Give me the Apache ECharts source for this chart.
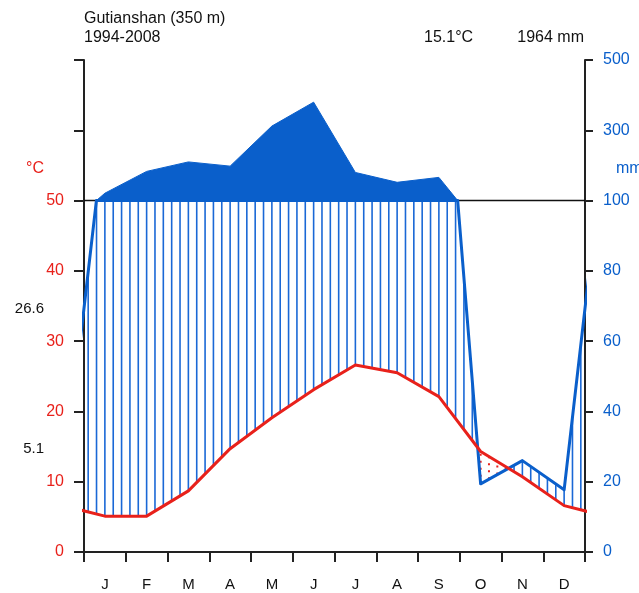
<!DOCTYPE html>
<html>
<head>
<meta charset="utf-8">
<title>Gutianshan climate diagram</title>
<script src="https://cdn.jsdelivr.net/npm/echarts@6/dist/echarts.min.js"></script>
<style>
  html, body { margin: 0; padding: 0; background: #fff; }
  #chart { width: 639px; height: 593px; }
</style>
</head>
<body>
<div id="chart"></div>
<script>
// Monthly climate normals, Gutianshan (350 m), 1994-2008
const months = ['J', 'F', 'M', 'A', 'M', 'J', 'J', 'A', 'S', 'O', 'N', 'D'];
const tempC = [5.1, 5.1, 8.7, 14.7, 19.1, 23.1, 26.6, 25.5, 22.1, 14.3, 10.7, 6.6];
const precipMm = [121, 183, 210, 198, 312, 380, 180, 152, 166, 19.4, 26, 17.7];
const tempTicks = [0, 10, 20, 30, 40, 50];
const mmTicks = [0, 20, 40, 60, 80, 100, 300, 500];

const RED = '#e8211b';
const BLUE = '#0a5fcb';
const HATCH = '#1a68d6';

// Walter-Lieth scaling: 10 degC = 20 mm up to 100 mm, 10 degC = 200 mm above
const toScale = p => (p <= 100 ? p / 2 : 50 + (p - 100) / 20);
const fromScale = v => (v <= 50 ? v * 2 : 100 + (v - 50) * 20);

// Months sit at x = 0.5 .. 11.5; December and January repeat at both edges
const xs = [-0.5].concat(months.map((_, i) => i + 0.5), [12.5]);
const tW = [tempC[11]].concat(tempC, [tempC[0]]);
const pW = [precipMm[11]].concat(precipMm, [precipMm[0]]);

// Temperature curve
const tempLine = xs.map((x, i) => [x, tW[i]]);

// Precipitation curve, capped at 100 mm, with the 100 mm crossings inserted
const precipLine = [];
for (let i = 0; i < xs.length; i++) {
  precipLine.push([xs[i], Math.min(pW[i], 100) / 2]);
  if (i < xs.length - 1 && (pW[i] - 100) * (pW[i + 1] - 100) < 0) {
    const f = (100 - pW[i]) / (pW[i + 1] - pW[i]);
    precipLine.push([xs[i] + f, 50]);
  }
}

// Solid areas above 100 mm (compressed scale)
const wetPolys = [];
let cur = null;
for (let i = 0; i < xs.length; i++) {
  if (pW[i] > 100) {
    if (!cur) {
      cur = [];
      if (i > 0) {
        const f = (100 - pW[i - 1]) / (pW[i] - pW[i - 1]);
        cur.push([xs[i - 1] + f, 50]);
      } else {
        cur.push([xs[i], 50]);
      }
    }
    cur.push([xs[i], toScale(pW[i])]);
  } else if (cur) {
    const f = (pW[i - 1] - 100) / (pW[i - 1] - pW[i]);
    cur.push([xs[i - 1] + f, 50]);
    wetPolys.push(cur);
    cur = null;
  }
}
if (cur) { cur.push([xs[xs.length - 1], 50]); wetPolys.push(cur); }
// keep only the parts that fall inside the year (0..12)
const wetVisible = wetPolys.filter(poly => poly.some(pt => pt[0] > 0 && pt[0] < 12));

// Hatching every 0.2 month between the two curves
const humidHatch = [];
const aridHatch = [];
for (let k = 0; k <= 65; k++) {
  const x = -0.5 + 0.2 * k;
  if (x < 0 || x > 12) continue;
  let i = 0;
  while (i < xs.length - 2 && x > xs[i + 1]) i++;
  const f = (x - xs[i]) / (xs[i + 1] - xs[i]);
  const t = tW[i] + f * (tW[i + 1] - tW[i]);
  const p = pW[i] + f * (pW[i + 1] - pW[i]);
  const ps = Math.min(p, 100) / 2;
  if (ps > t) humidHatch.push([x, t, ps]);
  else aridHatch.push([x, ps, t]);
}

const meanTemp = tempC.reduce((a, b) => a + b, 0) / tempC.length;
const maxTemp = Math.max.apply(null, tempC);
const minTemp = Math.min.apply(null, tempC);

const FONT = '"Liberation Sans", Arial, sans-serif';

function hatchRenderer(color, dash, width) {
  return function (params, api) {
    const a = api.coord([api.value(0), api.value(1)]);
    const b = api.coord([api.value(0), api.value(2)]);
    return {
      type: 'line',
      shape: { x1: a[0], y1: a[1], x2: b[0], y2: b[1] },
      style: { stroke: color, lineWidth: width, lineDash: dash }
    };
  };
}

const titleText = { fontSize: 16, fontWeight: 'normal', color: '#111', fontFamily: FONT };

const chart = echarts.init(document.getElementById('chart'), null, { renderer: 'canvas' });
chart.setOption({
  animation: false,
  backgroundColor: '#ffffff',
  textStyle: { fontFamily: FONT },
  grid: { left: 84, right: 54, top: 60, bottom: 41, containLabel: false },
  title: [
    { text: 'Gutianshan (350 m)', left: 84, top: 11, padding: 0, textStyle: titleText },
    { text: '1994-2008', left: 84, top: 30, padding: 0, textStyle: titleText },
    { text: meanTemp.toFixed(1) + '°C', left: 424, top: 30, padding: 0, textStyle: titleText },
    { text: '1964 mm', right: 55, top: 30, padding: 0, textStyle: titleText }
  ],
  graphic: [
    { type: 'text', left: 26, top: 161,
      style: { text: '°C', fill: RED, font: '16px ' + FONT } },
    { type: 'text', left: 616, top: 161,
      style: { text: 'mm', fill: BLUE, font: '16px ' + FONT } },
    { type: 'text', right: 595, top: 301,
      style: { text: maxTemp.toFixed(1), fill: '#111', font: '15px ' + FONT } },
    { type: 'text', right: 595, top: 441,
      style: { text: minTemp.toFixed(1), fill: '#111', font: '15px ' + FONT } }
  ],
  xAxis: [
    {
      type: 'value', min: 0, max: 12, interval: 1, position: 'bottom',
      axisLine: { show: true, onZero: false, lineStyle: { color: '#222', width: 2 } },
      axisTick: { show: true, inside: false, length: 10, lineStyle: { color: '#222', width: 2 } },
      axisLabel: { show: false },
      splitLine: { show: false }
    },
    {
      type: 'category', data: months, position: 'bottom', boundaryGap: true,
      axisLine: { show: false }, axisTick: { show: false }, splitLine: { show: false },
      axisLabel: { show: true, margin: 25, fontSize: 15, color: '#111', fontFamily: FONT }
    }
  ],
  yAxis: [
    {
      type: 'value', min: 0, max: 70, interval: 10, position: 'left',
      axisLine: { show: true, lineStyle: { color: '#222', width: 2 } },
      axisTick: { show: true, inside: false, length: 10, lineStyle: { color: '#222', width: 2 } },
      splitLine: { show: false },
      axisLabel: {
        margin: 20, fontSize: 16, color: RED, fontFamily: FONT,
        formatter: v => (tempTicks.indexOf(v) >= 0 ? String(v) : '')
      }
    },
    {
      type: 'value', min: 0, max: 70, interval: 10, position: 'right',
      axisLine: { show: true, lineStyle: { color: '#222', width: 2 } },
      axisTick: { show: true, inside: false, length: 8, lineStyle: { color: '#222', width: 2 } },
      splitLine: { show: false },
      axisLabel: {
        margin: 18, fontSize: 16, color: BLUE, fontFamily: FONT,
        formatter: v => {
          const mm = Math.round(fromScale(v));
          return mmTicks.indexOf(mm) >= 0 ? String(mm) : '';
        }
      }
    }
  ],
  series: [
    {
      name: 'humid', type: 'custom', coordinateSystem: 'cartesian2d',
      xAxisIndex: 0, yAxisIndex: 0, z: 2, clip: true,
      encode: { x: 0, y: [1, 2] },
      renderItem: hatchRenderer(HATCH, null, 1.6),
      data: humidHatch
    },
    {
      name: 'arid', type: 'custom', coordinateSystem: 'cartesian2d',
      xAxisIndex: 0, yAxisIndex: 0, z: 2, clip: true,
      encode: { x: 0, y: [1, 2] },
      renderItem: hatchRenderer(RED, [2, 5], 2),
      data: aridHatch
    },
    {
      name: 'line100', type: 'line', xAxisIndex: 0, yAxisIndex: 0, z: 3,
      symbol: 'none', silent: true,
      lineStyle: { color: '#111', width: 1.6 },
      data: [[0, 50], [12, 50]]
    },
    {
      name: 'wet', type: 'custom', coordinateSystem: 'cartesian2d',
      xAxisIndex: 0, yAxisIndex: 0, z: 4, clip: true,
      encode: { x: 0, y: 1 },
      renderItem: function (params, api) {
        const poly = wetVisible[params.dataIndex];
        return {
          type: 'polygon',
          shape: { points: poly.map(pt => api.coord(pt)) },
          style: { fill: BLUE, stroke: BLUE, lineWidth: 1 }
        };
      },
      data: wetVisible.map((poly, i) => [poly[0][0], 50, i])
    },
    {
      name: 'precip', type: 'line', xAxisIndex: 0, yAxisIndex: 0, z: 5,
      symbol: 'none', clip: true,
      lineStyle: { color: BLUE, width: 3, cap: 'round', join: 'round' },
      data: precipLine
    },
    {
      name: 'temp', type: 'line', xAxisIndex: 0, yAxisIndex: 0, z: 6,
      symbol: 'none', clip: true,
      lineStyle: { color: RED, width: 3, cap: 'round', join: 'round' },
      data: tempLine
    }
  ]
});
</script>
</body>
</html>
